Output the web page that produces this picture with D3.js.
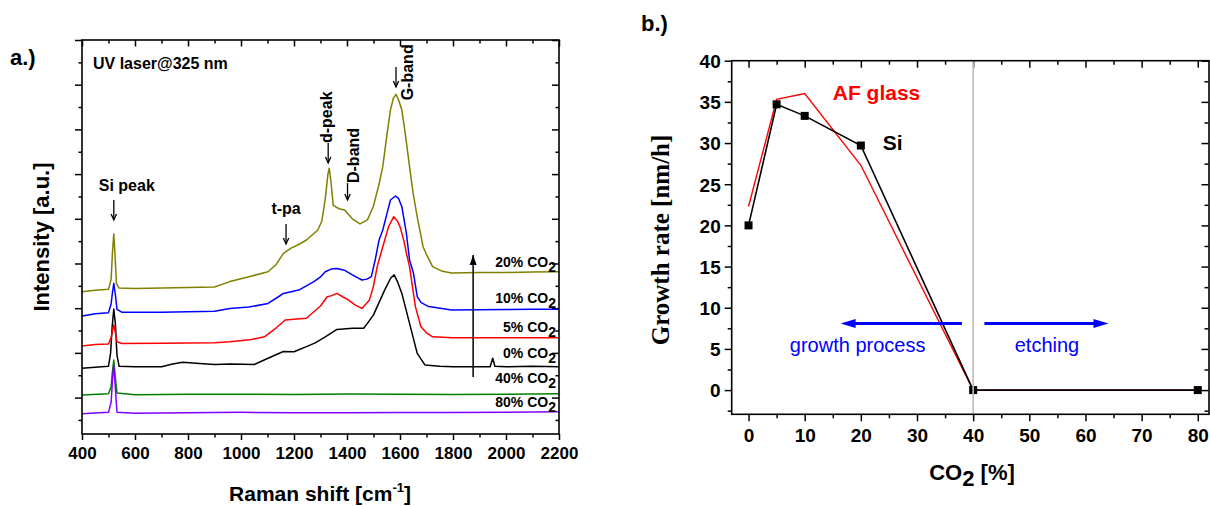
<!DOCTYPE html>
<html>
<head>
<meta charset="utf-8">
<script src="https://cdn.jsdelivr.net/npm/d3@7"></script>
<style>
  body { margin: 0; background: #fff; }
  svg { display: block; }
  text { font-family: "Liberation Sans", Arial, sans-serif; }
</style>
</head>
<body>
<div id="chart"></div>
<script>
// Panel a: Raman spectra, [shift, intensity (a.u.)]
const co2_20 = [[400,4.74],[450,4.8],[500,4.85],[510,5.3],[515,6.5],[520,7.32],[525,6.3],[530,5.1],[540,4.9],[600,4.88],[700,4.9],[800,4.92],[900,4.95],[958,5.19],[1030,5.41],[1102,5.63],[1131,5.93],[1160,6.45],[1189,6.69],[1218,6.85],[1247,7.05],[1290,7.5],[1305,7.9],[1318,8.9],[1328,10.0],[1333,10.26],[1340,9.6],[1348,8.6],[1370,8.45],[1391,8.39],[1420,8.0],[1449,7.77],[1477,7.95],[1499,8.54],[1520,9.5],[1535,10.33],[1550,11.7],[1564,12.87],[1575,13.4],[1585,13.57],[1595,13.3],[1607,12.87],[1620,11.8],[1636,10.33],[1650,9.1],[1665,8.09],[1687,6.75],[1700,6.4],[1723,5.86],[1760,5.65],[1795,5.57],[1900,5.6],[2000,5.6],[2100,5.62],[2200,5.63]];
const co2_10 = [[400,3.65],[450,3.75],[500,3.8],[510,4.2],[515,4.7],[520,5.11],[526,4.6],[532,3.95],[550,3.82],[700,3.82],[900,3.86],[958,3.99],[1030,4.05],[1102,4.21],[1140,4.5],[1160,4.66],[1218,4.81],[1275,5.19],[1300,5.4],[1318,5.63],[1340,5.75],[1362,5.78],[1390,5.7],[1420,5.49],[1456,5.26],[1475,5.3],[1492,5.41],[1507,6.2],[1521,7.05],[1535,7.5],[1550,8.2],[1564,8.84],[1583,9.02],[1595,8.9],[1607,8.54],[1624,7.36],[1636,6.16],[1651,5.56],[1665,4.52],[1680,4.25],[1708,4.07],[1795,3.92],[1900,3.93],[2000,3.94],[2100,3.95],[2200,3.95]];
const co2_5 = [[400,2.31],[450,2.38],[500,2.4],[510,2.7],[515,3.0],[520,3.25],[526,2.9],[532,2.5],[550,2.42],[700,2.43],[900,2.45],[958,2.5],[1040,2.6],[1088,2.72],[1131,3.1],[1167,3.47],[1200,3.5],[1247,3.55],[1275,3.84],[1300,4.1],[1325,4.51],[1340,4.55],[1362,4.66],[1385,4.5],[1405,4.37],[1430,4.15],[1456,3.99],[1485,4.37],[1500,5.0],[1514,5.86],[1535,6.75],[1557,7.65],[1576,8.09],[1590,7.9],[1600,7.65],[1615,7.0],[1624,6.47],[1636,5.86],[1658,4.07],[1679,3.17],[1700,2.9],[1723,2.72],[1800,2.68],[1900,2.68],[2000,2.68],[2100,2.68],[2200,2.68]];
const co2_0 = [[400,1.31],[450,1.36],[500,1.4],[508,2.0],[514,3.2],[520,3.96],[526,3.3],[532,1.9],[540,1.4],[600,1.38],[700,1.38],[742,1.5],[780,1.58],[843,1.52],[900,1.48],[960,1.5],[1050,1.48],[1102,1.76],[1160,2.06],[1200,2.05],[1247,2.28],[1280,2.45],[1318,2.72],[1362,3.05],[1420,3.1],[1463,3.1],[1477,3.32],[1500,3.7],[1514,4.07],[1542,4.81],[1565,5.35],[1578,5.49],[1590,5.2],[1607,4.66],[1636,3.32],[1665,1.98],[1694,1.46],[1750,1.4],[1800,1.38],[1940,1.38],[1950,1.76],[1958,1.4],[2000,1.38],[2100,1.4],[2200,1.38]];
const co2_40 = [[400,0.12],[500,0.17],[510,0.5],[515,1.2],[520,1.68],[525,1.0],[532,0.2],[600,0.13],[800,0.15],[1000,0.15],[1200,0.14],[1400,0.16],[1600,0.15],[1800,0.14],[2000,0.15],[2200,0.17]];
const co2_80 = [[400,-0.72],[500,-0.66],[510,-0.2],[515,0.8],[520,1.46],[525,0.6],[532,-0.66],[600,-0.7],[800,-0.68],[1000,-0.66],[1200,-0.68],[1400,-0.68],[1600,-0.67],[1800,-0.67],[2000,-0.66],[2200,-0.63]];

const spectra_names = ['0%', '5%', '10%', '20%', '40%', '80%'];
const spectra_colors = ['#000000', '#ff0000', '#0000ff', '#808000', '#008000', '#8000ff'];
const spectra = [co2_0, co2_5, co2_10, co2_20, co2_40, co2_80];
// label position (intensity at right end)
const spectra_label_y = [1.77, 2.94, 4.23, 5.84, 0.65, -0.42];

const raman_ticks = [400, 600, 800, 1000, 1200, 1400, 1600, 1800, 2000, 2200];

// peak annotations: [label, shift, arrow top, arrow bottom]
const peak_labels = [
    ['Si peak', 520, 8.84, 7.95],
    ['t-pa', 1170, 7.77, 6.87],
    ['d-peak', 1329, 11.39, 10.5],
    ['D-band', 1402, 9.6, 8.84],
    ['G-band', 1585, 14.79, 13.9]
];

// Panel b: growth rate vs CO2
const co2_pct = [0, 5, 10, 20, 40, 80];
const rate_si = [20, 34.7, 33.3, 29.7, 0, 0];
const rate_af = [22.3, 35.3, 36, 27.3, 0, 0];
const co2_ticks = [0, 10, 20, 30, 40, 50, 60, 70, 80];
const rate_ticks = [0, 5, 10, 15, 20, 25, 30, 35, 40];

const W = 1210, H = 506;
const svg = d3.select('#chart').append('svg')
    .attr('width', W)
    .attr('height', H);

// ---------- panel a ----------
const xa = d3.scaleLinear().domain([400, 2200]).range([82, 559]);
const ya = d3.scaleLinear().domain([-1.63, 16]).range([434, 40]);

const pa = svg.append('g');

const noDomain = g => g.select('.domain').remove();

// bottom (outward)
pa.append('g').attr('transform', 'translate(0,434)')
    .call(d3.axisBottom(xa).tickValues(d3.range(500, 2200, 200)).tickSize(3.5).tickFormat(''))
    .call(noDomain);
pa.append('g').attr('transform', 'translate(0,434)')
    .call(d3.axisBottom(xa).tickValues(raman_ticks).tickSize(6).tickFormat(d3.format('d')))
    .call(noDomain)
    .call(g => g.selectAll('text')
        .attr('y', 25).attr('dy', 0)
        .style('font-size', '17px').style('font-weight', 'bold').attr('fill', '#000'));
// top (inward)
pa.append('g').attr('transform', 'translate(0,40)')
    .call(d3.axisTop(xa).tickValues(d3.range(500, 2200, 200)).tickSize(-3.5).tickFormat(''))
    .call(noDomain);
pa.append('g').attr('transform', 'translate(0,40)')
    .call(d3.axisTop(xa).tickValues(raman_ticks).tickSize(-6.5).tickFormat(''))
    .call(noDomain);
// left (outward) & right (inward)
const ya_minor = d3.range(-1, 17).filter(v => v % 2 !== 0);
const ya_major = d3.range(0, 17, 2);
pa.append('g').attr('transform', 'translate(82,0)')
    .call(d3.axisLeft(ya).tickValues(ya_minor).tickSize(3.5).tickFormat(''))
    .call(noDomain);
pa.append('g').attr('transform', 'translate(82,0)')
    .call(d3.axisLeft(ya).tickValues(ya_major).tickSize(7).tickFormat(''))
    .call(noDomain);
pa.append('g').attr('transform', 'translate(559,0)')
    .call(d3.axisRight(ya).tickValues(ya_minor).tickSize(-3.5).tickFormat(''))
    .call(noDomain);
pa.append('g').attr('transform', 'translate(559,0)')
    .call(d3.axisRight(ya).tickValues(ya_major).tickSize(-7).tickFormat(''))
    .call(noDomain);
pa.selectAll('.tick line').attr('stroke', '#000').attr('stroke-width', 1.5);

const line_a = d3.line().x(d => xa(d[0])).y(d => ya(d[1]));
pa.append('g').selectAll('path')
    .data(spectra)
    .join('path')
    .attr('d', line_a)
    .attr('fill', 'none')
    .attr('stroke', (d, i) => spectra_colors[i])
    .attr('stroke-width', 1.5)
    .attr('stroke-linejoin', 'round');

pa.append('rect')
    .attr('x', 82).attr('y', 40).attr('width', 559 - 82).attr('height', 434 - 40)
    .attr('fill', 'none').attr('stroke', '#000').attr('stroke-width', 1.6);

// curve labels
const lab = pa.append('g').selectAll('text')
    .data(spectra_names)
    .join('text')
    .attr('x', xa(2200) - 3)
    .attr('y', (d, i) => ya(spectra_label_y[i]))
    .attr('text-anchor', 'end')
    .style('font-size', '14px').style('font-weight', 'bold');
lab.append('tspan').text(d => d + ' CO');
lab.append('tspan').attr('dy', 5).text('2');

// peak arrows
const arrowHead = (g, x, y, dir, size, color) => {
    g.append('path')
        .attr('d', `M${x - size * 0.45},${y - dir * size} L${x},${y} L${x + size * 0.45},${y - dir * size}`)
        .attr('fill', 'none').attr('stroke', color).attr('stroke-width', 1.3);
};
peak_labels.forEach(p => {
    const x = xa(p[1]);
    pa.append('line')
        .attr('x1', x).attr('x2', x).attr('y1', ya(p[2])).attr('y2', ya(p[3]))
        .attr('stroke', '#000').attr('stroke-width', 1.3);
    arrowHead(pa, x, ya(p[3]), 1, 6, '#000');
});
pa.append('text').attr('x', xa(520) + 13).attr('y', ya(8.84) - 9)
    .attr('text-anchor', 'middle').style('font-size', '16px').style('font-weight', 'bold').text('Si peak');
pa.append('text').attr('x', xa(1170)).attr('y', ya(7.77) - 10)
    .attr('text-anchor', 'middle').style('font-size', '16px').style('font-weight', 'bold').text('t-pa');
const rotLabel = (txt, x, y) => {
    pa.append('text')
        .attr('transform', `translate(${x},${y}) rotate(-90)`)
        .style('font-size', '16px').style('font-weight', 'bold').text(txt);
};
rotLabel('d-peak', xa(1329) + 4, ya(11.39));
rotLabel('D-band', xa(1402) + 11, ya(9.6));
rotLabel('G-band', xa(1585) + 17, ya(13.3));

// long arrow
pa.append('line')
    .attr('x1', xa(1876)).attr('x2', xa(1876)).attr('y1', ya(0.92)).attr('y2', ya(6.38))
    .attr('stroke', '#000').attr('stroke-width', 1.5);
pa.append('path')
    .attr('d', `M${xa(1876) - 3.5},${ya(6.38) + 10} L${xa(1876)},${ya(6.38)} L${xa(1876) + 3.5},${ya(6.38) + 10} Z`)
    .attr('fill', '#000');

pa.append('text').attr('x', 93).attr('y', 69)
    .style('font-size', '16px').style('font-weight', 'bold').text('UV laser@325 nm');
pa.append('text').attr('x', 10).attr('y', 65)
    .style('font-size', '22px').style('font-weight', 'bold').text('a.)');

// axis titles
const xt = pa.append('text').attr('x', 320).attr('y', 501).attr('text-anchor', 'middle')
    .style('font-size', '21px').style('font-weight', 'bold');
xt.append('tspan').text('Raman shift [cm');
xt.append('tspan').attr('dy', -9).style('font-size', '13px').text('-1');
xt.append('tspan').attr('dy', 9).text(']');
pa.append('text')
    .attr('transform', 'translate(49,237) rotate(-90)')
    .attr('text-anchor', 'middle')
    .style('font-size', '22px').style('font-weight', 'bold')
    .text('Intensity [a.u.]');

// ---------- panel b ----------
const xb = d3.scaleLinear().domain([-3, 82]).range([731.7, 1209]);
const yb = d3.scaleLinear().domain([-2.94, 40]).range([414.3, 60.7]);
const pb = svg.append('g');

pb.append('g').attr('transform', 'translate(0,414.3)')
    .call(d3.axisBottom(xb).tickValues(d3.range(5, 80, 10)).tickSize(4).tickFormat(''))
    .call(noDomain);
pb.append('g').attr('transform', 'translate(0,414.3)')
    .call(d3.axisBottom(xb).tickValues(co2_ticks).tickSize(7).tickFormat(d3.format('d')))
    .call(noDomain)
    .call(g => g.selectAll('text')
        .attr('y', 28).attr('dy', 0)
        .style('font-size', '19px').style('font-weight', 'bold').attr('fill', '#000'));
pb.append('g').attr('transform', 'translate(0,60.7)')
    .call(d3.axisTop(xb).tickValues(d3.range(5, 80, 10)).tickSize(-4).tickFormat(''))
    .call(noDomain);
pb.append('g').attr('transform', 'translate(0,60.7)')
    .call(d3.axisTop(xb).tickValues(co2_ticks).tickSize(-7).tickFormat(''))
    .call(noDomain);
const yb_minor = d3.range(-2.5, 40, 5);
pb.append('g').attr('transform', 'translate(731.7,0)')
    .call(d3.axisLeft(yb).tickValues(yb_minor).tickSize(4).tickFormat(''))
    .call(noDomain);
pb.append('g').attr('transform', 'translate(731.7,0)')
    .call(d3.axisLeft(yb).tickValues(rate_ticks).tickSize(7).tickFormat(d3.format('d')))
    .call(noDomain)
    .call(g => g.selectAll('text')
        .attr('x', -11).attr('dy', '0.36em')
        .style('font-size', '19px').style('font-weight', 'bold').attr('fill', '#000'));
pb.append('g').attr('transform', 'translate(1208.5,0)')
    .call(d3.axisRight(yb).tickValues(yb_minor).tickSize(-4).tickFormat(''))
    .call(noDomain);
pb.append('g').attr('transform', 'translate(1208.5,0)')
    .call(d3.axisRight(yb).tickValues(rate_ticks).tickSize(-7).tickFormat(''))
    .call(noDomain);
pb.selectAll('.tick line').attr('stroke', '#000').attr('stroke-width', 1.5);

const line_b = d3.line().x((d, i) => xb(co2_pct[i])).y(d => yb(d));
pb.append('path').attr('d', line_b(rate_af))
    .attr('fill', 'none').attr('stroke', '#ff0000').attr('stroke-width', 1.4);
pb.append('path').attr('d', line_b(rate_si))
    .attr('fill', 'none').attr('stroke', '#000').attr('stroke-width', 1.6);
pb.append('g').selectAll('rect')
    .data(rate_si)
    .join('rect')
    .attr('x', (d, i) => xb(co2_pct[i]) - 4)
    .attr('y', d => yb(d) - 4)
    .attr('width', 8).attr('height', 8)
    .attr('fill', '#000');

// grey divider at 40 %
pb.append('line')
    .attr('x1', xb(40)).attr('x2', xb(40)).attr('y1', yb(40)).attr('y2', yb(-2.94))
    .attr('stroke', '#bdbdbd').attr('stroke-width', 1.6);

pb.append('rect')
    .attr('x', 731.7).attr('y', 60.7).attr('width', 1209 - 731.7).attr('height', 414.3 - 60.7)
    .attr('fill', 'none').attr('stroke', '#000').attr('stroke-width', 1.6);

// blue arrows
const blueArrow = (x1, x2, y) => {
    const dir = Math.sign(x2 - x1);
    pb.append('line')
        .attr('x1', xb(x1)).attr('x2', xb(x2) - dir * 12).attr('y1', yb(y)).attr('y2', yb(y))
        .attr('stroke', '#0000ff').attr('stroke-width', 3);
    pb.append('path')
        .attr('d', `M${xb(x2)},${yb(y)} L${xb(x2) - dir * 15},${yb(y) - 4.5} L${xb(x2) - dir * 15},${yb(y) + 4.5} Z`)
        .attr('fill', '#0000ff');
};
blueArrow(38, 16.4, 8.1);
blueArrow(42, 64.1, 8.1);
pb.append('text').attr('x', xb(7.35)).attr('y', yb(4.66))
    .attr('fill', '#0000ff').style('font-size', '20px').text('growth process');
pb.append('text').attr('x', xb(47.4)).attr('y', yb(4.66))
    .attr('fill', '#0000ff').style('font-size', '20px').text('etching');

pb.append('text').attr('x', xb(15)).attr('y', yb(35.2))
    .attr('fill', '#ff0000').style('font-size', '21px').style('font-weight', 'bold').text('AF glass');
pb.append('text').attr('x', xb(23.9)).attr('y', yb(29.16))
    .style('font-size', '21px').style('font-weight', 'bold').text('Si');

pb.append('text').attr('x', 641).attr('y', 31)
    .style('font-size', '22px').style('font-weight', 'bold').text('b.)');

const xtb = pb.append('text').attr('x', 972).attr('y', 480).attr('text-anchor', 'middle')
    .style('font-size', '22px').style('font-weight', 'bold');
xtb.append('tspan').text('CO');
xtb.append('tspan').attr('dy', 6).text('2');
xtb.append('tspan').attr('dy', -6).text(' [%]');
pb.append('text')
    .attr('transform', 'translate(669,240) rotate(-90)')
    .attr('text-anchor', 'middle')
    .style('font-family', '"Liberation Serif", "Times New Roman", serif')
    .style('font-size', '25px').style('font-weight', 'bold')
    .text('Growth rate [nm/h]');
</script>
</body>
</html>
